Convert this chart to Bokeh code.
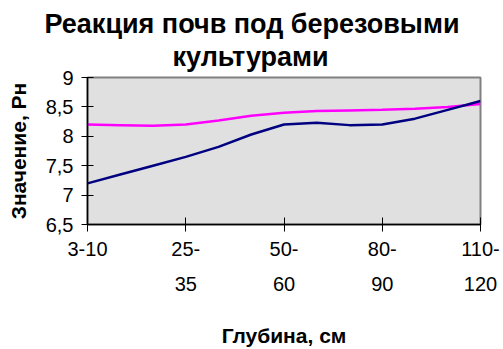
from bokeh.plotting import figure
from bokeh.models import Range1d, FixedTicker, LinearAxis, Title
from bokeh.embed import file_html
from bokeh.resources import INLINE

# Depth intervals (13 sampling steps), labels shown every third step
depth_index = list(range(13))
tick_positions = [0, 3, 6, 9, 12]
tick_labels_top = ["3-10", "25-", "50-", "80-", "110-"]
tick_labels_bottom = ["", "35", "60", "90", "120"]

# pH values by depth
ph_series_1 = [7.20, 7.35, 7.50, 7.65, 7.82, 8.03, 8.20, 8.23, 8.19, 8.20, 8.30, 8.45, 8.60]
ph_series_2 = [8.20, 8.19, 8.18, 8.20, 8.27, 8.35, 8.40, 8.43, 8.44, 8.45, 8.47, 8.50, 8.55]

y_ticks = [6.5, 7, 7.5, 8, 8.5, 9]
y_tick_labels = ["6,5", "7", "7,5", "8", "8,5", "9"]

FONT = "Liberation Sans"

p = figure(width=503, height=349, output_backend="svg", toolbar_location=None,
           x_range=Range1d(0, 12), y_range=Range1d(6.5, 9),
           min_border_left=87, min_border_right=23, min_border_top=77,
           min_border_bottom=119, x_axis_type=None)

p.background_fill_color = "#e0e0e0"
p.border_fill_color = "white"
p.outline_line_color = "#808080"
p.outline_line_width = 2
p.xgrid.visible = False
p.ygrid.visible = False

# Two-line title (second line is added first: later titles stack above)
p.add_layout(Title(text="культурами", align="left", offset=85, standoff=12,
                   text_font=FONT, text_font_size="27px", text_font_style="bold",
                   text_color="black"), "above")
p.add_layout(Title(text="Реакция почв под березовыми", align="left", offset=-43,
                   standoff=-10, text_font=FONT, text_font_size="27px",
                   text_font_style="bold", text_color="black"), "above")

# Y axis
ya = p.yaxis[0]
ya.ticker = FixedTicker(ticks=y_ticks)
ya.major_label_overrides = dict(zip(y_ticks, y_tick_labels))
ya.minor_tick_line_color = None
ya.major_tick_in = 6
ya.major_tick_out = 6
ya.major_tick_line_color = "black"
ya.axis_line_color = "black"
ya.axis_line_width = 1.5
ya.major_label_standoff = 8
ya.major_label_text_font = FONT
ya.major_label_text_font_size = "20px"
ya.major_label_text_color = "black"
ya.axis_label = "Значение, Рн"
ya.axis_label_text_font = FONT
ya.axis_label_text_font_size = "21px"
ya.axis_label_text_font_style = "bold"
ya.axis_label_text_color = "black"
ya.axis_label_standoff = 13

# X axis: first label line with tick marks
xa = LinearAxis(ticker=FixedTicker(ticks=tick_positions),
                major_label_overrides=dict(zip(tick_positions, tick_labels_top)))
xa.minor_tick_line_color = None
xa.major_tick_in = 7
xa.major_tick_out = 7
xa.axis_line_width = 1.5
xa.major_label_standoff = 10
xa.major_label_text_font = FONT
xa.major_label_text_font_size = "20px"
xa.major_label_text_color = "black"
p.add_layout(xa, "below")

# X axis: second label line and axis title
xb = LinearAxis(ticker=FixedTicker(ticks=tick_positions),
                major_label_overrides=dict(zip(tick_positions, tick_labels_bottom)))
xb.axis_line_color = None
xb.major_tick_line_color = None
xb.minor_tick_line_color = None
xb.major_tick_in = 0
xb.major_tick_out = 0
xb.major_label_standoff = 18
xb.major_label_text_font = FONT
xb.major_label_text_font_size = "20px"
xb.major_label_text_color = "black"
xb.axis_label = "Глубина, см"
xb.axis_label_text_font = FONT
xb.axis_label_text_font_size = "21px"
xb.axis_label_text_font_style = "bold"
xb.axis_label_text_color = "black"
xb.axis_label_standoff = 30
p.add_layout(xb, "below")

p.line(depth_index, ph_series_2, line_color="#ff00ff", line_width=2.5)
p.line(depth_index, ph_series_1, line_color="#000080", line_width=2.5)

open("out.html", "w").write(file_html(p, INLINE))
